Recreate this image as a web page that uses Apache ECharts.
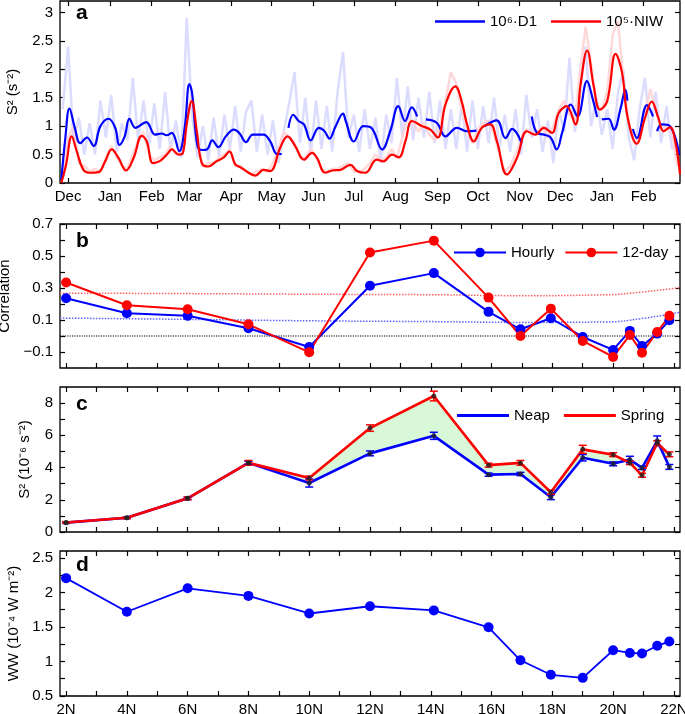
<!DOCTYPE html>
<html>
<head>
<meta charset="utf-8">
<title>S2 / correlation / WW</title>
<script src="https://cdn.jsdelivr.net/npm/echarts@6/dist/echarts.min.js"></script>
<style>
html, body { margin: 0; padding: 0; background: #fff; }
#main { width: 685px; height: 714px; }
</style>
</head>
<body>
<div id="main"></div>
<script>
var FONT = "'Liberation Sans', Arial, sans-serif";

// ---- panel a : time series (day 0 = 1 Dec) ----
var monthDays = [0, 31, 62, 90, 121, 151, 182, 212, 243, 274, 304, 335, 365, 396, 427];
var monthNames = ['Dec', 'Jan', 'Feb', 'Mar', 'Apr', 'May', 'Jun', 'Jul', 'Aug', 'Sep', 'Oct', 'Nov', 'Dec', 'Jan', 'Feb'];

// raw (light) series, one value every 4 days from day -4
var rawStart = -4, rawStep = 4;
var rawD1 = [1.3, 2.4, 0.75, 1.15, 0.5, 1.05, 0.5, 1.45, 0.8, 1.55, 0.55, 1.05, 0.75, 1.85, 0.75, 1.45,
  0.65, 1.4, 0.6, 1.6, 0.55, 1.1, 0.45, 2.9, 1.2, 0.45, 1.0, 0.4, 1.15, 0.45, 1.2, 0.6,
  1.35, 0.55, 1.25, 1.45, 0.55, 1.2, 0.5, 1.1, 0.35, 0.9, 1.4, 1.95, 0.7, 1.5, 0.5, 1.45,
  0.6, 1.35, 0.55, 1.6, 2.3, 0.8, 1.2, 0.55, 1.3, 0.6, 1.15, 0.35, 1.2, 0.7, 1.85, 0.8,
  1.7, 0.75, 1.5, 0.8, 1.6, 0.7, 1.45, 0.6, 1.3, 0.6, 1.4, 0.55, 1.45, 0.6, 1.35, 0.7,
  1.5, 0.6, 1.2, 0.55, 1.3, 0.5, 1.55, 0.8, 1.3, 0.55, 1.1, 0.35, 1.3, 0.9, 2.2, 0.9,
  1.6, 2.4, 1.0, 1.5, 0.85, 1.3, 0.6, 1.6, 2.0, 0.8, 0.4, 1.3, 1.85, 0.8, 1.6, 0.7,
  1.35, 0.6, 0.7];
var rawNIW = [0.1, 0.8, 1.0, 0.35, 0.3, 0.2, 0.25, 0.2, 0.45, 0.65, 0.45, 0.3, 0.25, 0.5, 0.75, 0.9,
  0.5, 0.4, 0.45, 0.5, 0.65, 0.5, 0.6, 1.2, 1.55, 0.7, 0.3, 0.35, 0.35, 0.45, 0.5, 0.6,
  0.3, 0.3, 0.2, 0.15, 0.2, 0.25, 0.2, 0.35, 0.6, 0.9, 0.8, 0.7, 0.45, 0.45, 0.6, 0.45,
  0.25, 0.2, 0.25, 0.25, 0.3, 0.35, 0.2, 0.2, 0.25, 0.35, 0.5, 0.4, 0.45, 0.6, 0.45, 0.8,
  1.15, 1.05, 0.9, 1.05, 0.85, 0.75, 1.0, 1.45, 1.95, 1.75, 1.3, 0.95, 0.7, 0.95, 1.05, 1.1,
  0.85, 0.5, 0.2, 0.3, 0.5, 0.75, 0.95, 0.85, 0.9, 1.0, 0.8, 1.0, 1.3, 1.45, 1.2, 1.1,
  2.0, 2.75, 2.1, 1.35, 1.3, 1.6, 2.6, 2.85, 1.8, 1.05, 0.7, 0.85, 1.25, 1.65, 1.3, 0.95,
  1.0, 0.9, 0.3];

// smoothed series: [day, value], '-' = gap
var smoothD1 = [[-5, 0.05], [-2, 0.8], [1, 1.31], [5, 0.97], [9, 0.70], [14, 0.80], [19, 0.65], [24, 1.00],
  [30, 1.13], [35, 0.97], [38, 0.67], [42, 0.82], [45.5, 1.13], [50, 0.97], [58, 1.07], [64.5, 0.85],
  [69.5, 0.87], [73, 0.84], [77, 0.88], [82.5, 0.56], [86.5, 0.97], [90, 1.74], [92, 1.58], [96, 0.65],
  [99.5, 0.58], [103, 0.59], [107, 0.75], [111.5, 0.63], [117, 0.82], [123, 0.94], [127, 0.88], [132, 0.72],
  [137, 0.85], [145, 0.85], [150, 0.73], [155, 0.51], [158.5, 0.51], [161, '-'], [163.5, 0.97], [167, 1.20],
  [171, 1.09], [175, 1.03], [180, 0.75], [186, 0.97], [190, 0.92], [194, 0.78], [198, 0.97], [204, 1.22],
  [206, 1.09], [212, 0.73], [219, 1.00], [225, 0.97], [233, 0.59], [239, 0.91], [245, 1.35], [250, 1.09],
  [255, 1.33], [259, 1.17], [262, '-'], [265.5, 1.12], [273.5, 1.06], [280, 0.82], [288.5, 0.97], [296, 0.91],
  [303, 0.92], [306, '-'], [309, 1.00], [318, 1.10], [324.5, 0.79], [329.5, 0.95], [336.5, 0.70], [340, '-'],
  [344, 1.17], [348, 0.88], [353, 0.85], [358, 0.80], [362.5, 0.59], [366.5, 0.88], [373, 1.38], [378, 1.17],
  [385, 1.79], [389, 1.50], [392.5, 1.16], [394, '-'], [396, 1.12], [401, 1.13], [405, 0.94], [410, 1.32],
  [413.5, 1.64], [415, 1.45], [417, '-'], [419, 0.95], [422, 0.79], [429.5, 1.37], [434, 1.17], [435.5, '-'],
  [437, 0.91], [440.5, 1.03], [446.5, 1.00], [453.5, 0.50]];
var smoothNIW = [[-5, 0], [-1.5, 0.32], [2.7, 0.82], [6.4, 0.56], [11.4, 0.23], [16.4, 0.18], [22.5, 0.19],
  [27.5, 0.38], [32.4, 0.59], [37.4, 0.44], [43, 0.22], [48.6, 0.44], [54.7, 0.83], [58.4, 0.73], [63, 0.35],
  [68.3, 0.39], [73.3, 0.50], [77, 0.59], [82, 0.50], [85.2, 0.53], [88, 1.03], [91.8, 1.44], [95.5, 0.91],
  [99.2, 0.35], [104, 0.29], [110, 0.38], [115, 0.44], [119.8, 0.55], [124, 0.33], [129, 0.26], [134, 0.18],
  [139, 0.13], [145, 0.23], [150, 0.21], [157.4, 0.62], [162.8, 0.82], [168.5, 0.65], [175, 0.41], [181, 0.53],
  [184.7, 0.44], [190.8, 0.18], [196, 0.22], [202, 0.23], [209.4, 0.32], [214.4, 0.21], [220.5, 0.18], [229, 0.41],
  [234, 0.38], [240.3, 0.50], [245.3, 0.45], [250.2, 0.73], [255.2, 1.09], [262.6, 1.00], [268.8, 0.94],
  [274.3, 0.80], [280, 1.38], [287.3, 1.70], [292.3, 1.41], [296, 1.03], [301, 0.73], [307, 0.97], [313.2, 1.03],
  [318.2, 0.73], [325.6, 0.15], [333, 0.44], [340.5, 0.91], [346.7, 0.85], [353, 0.97], [359, 0.88], [364, 1.23],
  [369.8, 1.35], [376.4, 1.03], [380.2, 1.73], [385.1, 2.33], [390, 1.70], [394.6, 1.29], [400, 1.44],
  [406.2, 2.27], [411, 1.94], [415, 1.17], [421.9, 0.69], [428, 1.14], [433, 1.43], [438, 1.14], [441.8, 0.91],
  [446.7, 0.98], [450.5, 0.73], [454, 0.15]];

// ---- panels b-d : latitude ----
var lat = [2, 4, 6, 8, 10, 12, 14.1, 15.9, 16.95, 17.95, 19, 20, 20.55, 20.95, 21.45, 21.85];
var corrHourly = [0.236, 0.142, 0.126, 0.048, -0.069, 0.314, 0.393, 0.151, 0.042, 0.111, -0.006, -0.087, 0.032, -0.062, 0.015, 0.098];
var corr12day = [0.334, 0.192, 0.167, 0.073, -0.102, 0.522, 0.596, 0.240, 0.0, 0.171, -0.031, -0.131, 0.006, -0.104, 0.025, 0.126];
var sigLat = [1.8, 6, 10, 14, 17, 19.8, 20.9, 22.2];
var sigRed = [0.268, 0.265, 0.261, 0.258, 0.252, 0.258, 0.274, 0.302];
var sigBlue = [0.112, 0.104, 0.095, 0.09, 0.085, 0.088, 0.108, 0.148];

var neap = [0.58, 0.88, 2.09, 4.29, 3.04, 4.88, 5.97, 3.56, 3.60, 2.16, 4.61, 4.23, 4.50, 3.98, 5.66, 4.04];
var spring = [0.59, 0.88, 2.09, 4.29, 3.35, 6.45, 8.44, 4.15, 4.29, 2.47, 5.13, 4.80, 4.29, 3.52, 5.51, 4.82];
var neapErr = [0.05, 0.05, 0.08, 0.1, 0.25, 0.15, 0.22, 0.1, 0.1, 0.15, 0.2, 0.12, 0.2, 0.1, 0.3, 0.15];
var springErr = [0.05, 0.05, 0.08, 0.15, 0.12, 0.2, 0.3, 0.12, 0.15, 0.12, 0.25, 0.12, 0.1, 0.12, 0.15, 0.15];

var ww = [2.207, 1.72, 2.06, 1.95, 1.695, 1.80, 1.74, 1.495, 1.017, 0.807, 0.763, 1.163, 1.124, 1.115, 1.227, 1.29];

var latTicks = [2,3,4,5,6,7,8,9,10,11,12,13,14,15,16,17,18,19,20,21,22];
var latLabels = [2, 4, 6, 8, 10, 12, 14, 16, 18, 20, 22];

function pairs(xs, ys) { return xs.map(function (x, i) { return [x, ys[i]]; }); }
function fmtNum(v) { return v < 0 ? '\u2212' + Math.abs(v) : String(v); }

function tickStyle(vals) {
  return { show: true, inside: true, length: 5, customValues: vals, lineStyle: { color: '#000', width: 1.2 } };
}
function xAx(g, pos, min, max, ticks, labels, fmt) {
  return {
    type: 'value', gridIndex: g, position: pos, min: min, max: max,
    axisLine: { show: false, onZero: false }, splitLine: { show: false },
    axisTick: tickStyle(ticks),
    axisLabel: labels ? { customValues: labels, formatter: fmt, margin: 6, color: '#000', fontSize: 15, fontFamily: FONT } : { show: false }
  };
}
function yAx(g, pos, min, max, ticks, labels, name, gap) {
  var ax = {
    type: 'value', gridIndex: g, position: pos, min: min, max: max,
    axisLine: { show: false, onZero: false }, splitLine: { show: false },
    axisTick: tickStyle(ticks),
    axisLabel: labels ? { customValues: labels, formatter: fmtNum, margin: 7, color: '#000', fontSize: 15, fontFamily: FONT } : { show: false }
  };
  if (name) {
    ax.name = name; ax.nameLocation = 'middle'; ax.nameGap = gap;
    ax.nameTextStyle = { color: '#000', fontSize: 15, fontFamily: FONT };
  }
  return ax;
}
function monthFmt(v) { return monthNames[monthDays.indexOf(v)]; }
function latFmt(v) { return v + 'N'; }

var gridBase = { left: 60, width: 620, show: true, borderColor: '#000', borderWidth: 1.3, outerBoundsMode: 'none' };
function grid(top, h) { return Object.assign({}, gridBase, { top: top, height: h }); }

function errBars(xs, ys, es, color, yIdx, xIdx) {
  return {
    type: 'custom', xAxisIndex: xIdx, yAxisIndex: yIdx, z: 4, silent: true,
    data: xs.map(function (x, i) { return [x, ys[i], es[i]]; }),
    encode: { x: 0, y: 1 },
    renderItem: function (params, api) {
      var x = api.value(0), y = api.value(1), e = api.value(2);
      var t = api.coord([x, y + e]), b = api.coord([x, y - e]), w = 4;
      var st = { stroke: color, lineWidth: 1.5 };
      return { type: 'group', children: [
        { type: 'line', shape: { x1: t[0], y1: t[1], x2: b[0], y2: b[1] }, style: st },
        { type: 'line', shape: { x1: t[0] - w, y1: t[1], x2: t[0] + w, y2: t[1] }, style: st },
        { type: 'line', shape: { x1: b[0] - w, y1: b[1], x2: b[0] + w, y2: b[1] }, style: st }
      ] };
    }
  };
}

var rawDays = rawD1.map(function (v, i) { return rawStart + i * rawStep; });
var legText = { color: '#000', fontSize: 15, fontFamily: FONT };

var option = {
  animation: false,
  backgroundColor: '#fff',
  grid: [grid(1, 182), grid(224, 144), grid(387, 145), grid(551, 145)],
  xAxis: [
    xAx(0, 'bottom', -6, 454, monthDays, monthDays, monthFmt),
    xAx(0, 'top', -6, 454, monthDays, null),
    xAx(1, 'bottom', 1.8, 22.2, latTicks, null),
    xAx(1, 'top', 1.8, 22.2, latTicks, null),
    xAx(2, 'bottom', 1.8, 22.2, latTicks, null),
    xAx(2, 'top', 1.8, 22.2, latTicks, null),
    xAx(3, 'bottom', 1.8, 22.2, latTicks, latLabels, latFmt),
    xAx(3, 'top', 1.8, 22.2, latTicks, null)
  ],
  yAxis: [
    yAx(0, 'left', 0, 3.2, [0, 0.5, 1, 1.5, 2, 2.5, 3], [0, 0.5, 1, 1.5, 2, 2.5, 3], 'S\u00b2 (s\u207b\u00b2)', 40),
    yAx(0, 'right', 0, 3.2, [0, 0.5, 1, 1.5, 2, 2.5, 3], null),
    yAx(1, 'left', -0.2, 0.7, [-0.1, 0, 0.1, 0.2, 0.3, 0.4, 0.5, 0.6, 0.7], [-0.1, 0.1, 0.3, 0.5, 0.7], 'Correlation', 43),
    yAx(1, 'right', -0.2, 0.7, [-0.1, 0, 0.1, 0.2, 0.3, 0.4, 0.5, 0.6, 0.7], null),
    yAx(2, 'left', 0, 9, [0, 1, 2, 3, 4, 5, 6, 7, 8], [0, 2, 4, 6, 8], 'S\u00b2 (10\u207b\u2076 s\u207b\u00b2)', 28),
    yAx(2, 'right', 0, 9, [0, 1, 2, 3, 4, 5, 6, 7, 8], null),
    yAx(3, 'left', 0.5, 2.6, [0.5, 0.75, 1, 1.25, 1.5, 1.75, 2, 2.25, 2.5], [0.5, 1, 1.5, 2, 2.5], 'WW (10\u207b\u2074 W m\u207b\u00b2)', 39),
    yAx(3, 'right', 0.5, 2.6, [0.5, 0.75, 1, 1.25, 1.5, 1.75, 2, 2.25, 2.5], null)
  ],
  legend: [
    { data: [{ name: '10\u2076\u00b7D1', icon: 'rect' }, { name: '10\u2075\u00b7NIW', icon: 'rect' }],
      left: 430, top: 9, itemWidth: 50, itemHeight: 2.5, itemGap: 14, textStyle: legText },
    { data: ['Hourly', '12-day'], left: 448, top: 240, itemWidth: 52, itemHeight: 12, itemGap: 10, textStyle: legText },
    { data: [{ name: 'Neap', icon: 'rect' }, { name: 'Spring', icon: 'rect' }],
      left: 452, top: 403, itemWidth: 52, itemHeight: 2.8, itemGap: 14, textStyle: legText }
  ],
  graphic: [
    { type: 'text', left: 76, top: 3, style: { text: 'a', font: 'bold 21px ' + FONT, fill: '#000' } },
    { type: 'text', left: 76, top: 231, style: { text: 'b', font: 'bold 21px ' + FONT, fill: '#000' } },
    { type: 'text', left: 76, top: 394, style: { text: 'c', font: 'bold 21px ' + FONT, fill: '#000' } },
    { type: 'text', left: 76, top: 555, style: { text: 'd', font: 'bold 21px ' + FONT, fill: '#000' } }
  ],
  series: [
    // a
    { name: 'rawD1', type: 'line', xAxisIndex: 0, yAxisIndex: 0, data: pairs(rawDays, rawD1), symbol: 'none', silent: true,
      lineStyle: { color: '#dcdcff', width: 2.5 } },
    { name: 'rawNIW', type: 'line', xAxisIndex: 0, yAxisIndex: 0, data: pairs(rawDays, rawNIW), symbol: 'none', silent: true,
      lineStyle: { color: '#ffd2d2', width: 2.5, opacity: 0.85 } },
    { name: '10\u2076\u00b7D1', type: 'line', xAxisIndex: 0, yAxisIndex: 0, data: smoothD1, symbol: 'none', smooth: 0.4,
      color: '#0000ff', lineStyle: { color: '#0000ff', width: 2.2 } },
    { name: '10\u2075\u00b7NIW', type: 'line', xAxisIndex: 0, yAxisIndex: 0, data: smoothNIW, symbol: 'none', smooth: 0.4,
      color: '#ff0000', lineStyle: { color: '#ff0000', width: 2.2 } },
    // b
    { name: 'sigRed', type: 'line', xAxisIndex: 2, yAxisIndex: 2, data: pairs(sigLat, sigRed), symbol: 'none', smooth: 0.5, silent: true,
      lineStyle: { color: '#ff6060', width: 1.5, type: 'dotted' } },
    { name: 'sigBlue', type: 'line', xAxisIndex: 2, yAxisIndex: 2, data: pairs(sigLat, sigBlue), symbol: 'none', smooth: 0.5, silent: true,
      lineStyle: { color: '#6060ff', width: 1.5, type: 'dotted' } },
    { name: 'zero', type: 'line', xAxisIndex: 2, yAxisIndex: 2, data: [[1.8, 0], [22.2, 0]], symbol: 'none', silent: true,
      lineStyle: { color: '#000', width: 1.2, type: 'dotted' } },
    { name: 'Hourly', type: 'line', xAxisIndex: 2, yAxisIndex: 2, data: pairs(lat, corrHourly), symbol: 'circle', symbolSize: 10,
      color: '#0000ff', lineStyle: { color: '#0000ff', width: 2 } },
    { name: '12-day', type: 'line', xAxisIndex: 2, yAxisIndex: 2, data: pairs(lat, corr12day), symbol: 'circle', symbolSize: 10,
      color: '#ff0000', lineStyle: { color: '#ff0000', width: 2 } },
    // c
    { name: 'fill', type: 'custom', xAxisIndex: 4, yAxisIndex: 4, silent: true, z: 1,
      data: [[lat[0], spring[0]]],
      renderItem: function (params, api) {
        var pts = [], i;
        for (i = 0; i < lat.length; i++) pts.push(api.coord([lat[i], spring[i]]));
        for (i = lat.length - 1; i >= 0; i--) pts.push(api.coord([lat[i], neap[i]]));
        return { type: 'polygon', shape: { points: pts }, style: { fill: '#d8f8d8' } };
      } },
    { name: 'Neap', type: 'line', xAxisIndex: 4, yAxisIndex: 4, data: pairs(lat, neap), symbol: 'none', z: 3,
      color: '#0000ff', lineStyle: { color: '#0000ff', width: 2.6 } },
    { name: 'Spring', type: 'line', xAxisIndex: 4, yAxisIndex: 4, data: pairs(lat, spring), symbol: 'none', z: 3,
      color: '#ff0000', lineStyle: { color: '#ff0000', width: 2.6 } },
    errBars(lat, neap, neapErr, '#0000ff', 4, 4),
    errBars(lat, spring, springErr, '#ff0000', 4, 4),
    { name: 'dotsN', type: 'scatter', xAxisIndex: 4, yAxisIndex: 4, data: pairs(lat, neap), symbolSize: 5, z: 5, silent: true,
      itemStyle: { color: '#222' } },
    { name: 'dotsS', type: 'scatter', xAxisIndex: 4, yAxisIndex: 4, data: pairs(lat, spring), symbolSize: 5, z: 5, silent: true,
      itemStyle: { color: '#222' } },
    // d
    { name: 'WW', type: 'line', xAxisIndex: 6, yAxisIndex: 6, data: pairs(lat, ww), symbol: 'circle', symbolSize: 10,
      color: '#0000ff', lineStyle: { color: '#0000ff', width: 1.8 } }
  ]
};

var chart = echarts.init(document.getElementById('main'));
chart.setOption(option);
</script>
</body>
</html>
